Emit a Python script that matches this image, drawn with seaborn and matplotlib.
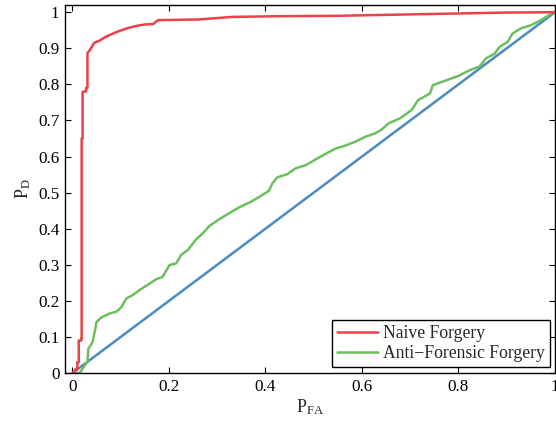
import numpy as np
import pandas as pd
import matplotlib
matplotlib.use("Agg")
import matplotlib.pyplot as plt
import seaborn as sns

# ---- data ----
naive_pfa = [0.0, 0.005, 0.005, 0.010, 0.010, 0.013, 0.013, 0.018, 0.018, 0.019, 0.019,
             0.021, 0.021, 0.028, 0.028, 0.031, 0.031, 0.036, 0.045, 0.057, 0.069, 0.091,
             0.112, 0.132, 0.150, 0.167, 0.177, 0.263, 0.331, 0.428, 0.547, 0.702, 0.896, 1.0]
naive_pd = [0.0, 0.0, 0.010, 0.010, 0.030, 0.030, 0.090, 0.090, 0.095, 0.095, 0.650,
            0.650, 0.780, 0.780, 0.790, 0.790, 0.887, 0.895, 0.915, 0.922, 0.932, 0.945,
            0.955, 0.962, 0.966, 0.967, 0.978, 0.980, 0.987, 0.989, 0.990, 0.994, 0.999, 1.0]

anti_pfa = [0.0, 0.015, 0.025, 0.031, 0.033, 0.036, 0.042, 0.050, 0.060, 0.077, 0.091,
            0.101, 0.112, 0.125, 0.139, 0.160, 0.174, 0.187, 0.201, 0.215, 0.225, 0.239,
            0.256, 0.270, 0.284, 0.304, 0.321, 0.345, 0.366, 0.387, 0.407, 0.414, 0.424,
            0.445, 0.462, 0.483, 0.504, 0.524, 0.545, 0.565, 0.586, 0.607, 0.627, 0.641,
            0.655, 0.679, 0.703, 0.716, 0.741, 0.747, 0.772, 0.799, 0.823, 0.844, 0.857,
            0.875, 0.885, 0.902, 0.912, 0.929, 0.950, 0.971, 0.995, 1.0]
anti_pd = [0.0, 0.0, 0.020, 0.031, 0.068, 0.073, 0.087, 0.142, 0.154, 0.165, 0.170,
           0.182, 0.207, 0.216, 0.230, 0.248, 0.260, 0.267, 0.299, 0.304, 0.327, 0.341,
           0.370, 0.387, 0.408, 0.426, 0.440, 0.459, 0.472, 0.488, 0.505, 0.525, 0.542,
           0.551, 0.567, 0.576, 0.592, 0.607, 0.622, 0.630, 0.641, 0.655, 0.664, 0.675,
           0.692, 0.706, 0.729, 0.756, 0.775, 0.798, 0.810, 0.823, 0.839, 0.850, 0.872,
           0.885, 0.904, 0.918, 0.941, 0.955, 0.964, 0.978, 0.998, 1.0]

chance_pfa = [0.0, 1.0]
chance_pd = [0.0, 1.0]

x_ticks = [0, 0.2, 0.4, 0.6, 0.8, 1]
x_tick_labels = ["0", "0.2", "0.4", "0.6", "0.8", "1"]
y_ticks = [0, 0.1, 0.2, 0.3, 0.4, 0.5, 0.6, 0.7, 0.8, 0.9, 1]
y_tick_labels = ["0", "0.1", "0.2", "0.3", "0.4", "0.5", "0.6", "0.7", "0.8", "0.9", "1"]

labels = ["Naive Forgery", "Anti\u2212Forensic Forgery"]

# ---- style ----
sns.set_style("ticks")
plt.rcParams["font.family"] = ["Liberation Serif", "DejaVu Serif"]
plt.rcParams["mathtext.fontset"] = "custom"
plt.rcParams["mathtext.rm"] = "Liberation Serif"
plt.rcParams["mathtext.it"] = "Liberation Serif"
plt.rcParams["font.size"] = 12

fig = plt.figure(figsize=(5.56, 4.23), dpi=100)
ax = fig.add_axes([65 / 556, 1 - 373 / 423, 490 / 556, 368 / 423])

red = "#EB4249"
green = "#6CBF5F"
blue = "#4A8BC2"

df_chance = pd.DataFrame({"pfa": chance_pfa, "pd": chance_pd})
df_naive = pd.DataFrame({"pfa": naive_pfa, "pd": naive_pd})
df_anti = pd.DataFrame({"pfa": anti_pfa, "pd": anti_pd})

sns.lineplot(data=df_chance, x="pfa", y="pd", sort=False, estimator=None,
             color=blue, lw=1.8, ax=ax, legend=False)
sns.lineplot(data=df_anti, x="pfa", y="pd", sort=False, estimator=None,
             color=green, lw=1.8, ax=ax, label=labels[1])
sns.lineplot(data=df_naive, x="pfa", y="pd", sort=False, estimator=None,
             color=red, lw=1.8, ax=ax, label=labels[0])

ax.set_xlim(-0.0155, 1.0)
ax.set_ylim(0, 1.02)
ax.set_xticks(x_ticks)
ax.set_xticklabels(x_tick_labels)
ax.set_yticks(y_ticks)
ax.set_yticklabels(y_tick_labels)
ax.tick_params(direction="in", length=4, width=0.8, top=True, right=True,
               labelsize=12.3, colors="black", pad=4)
for s in ax.spines.values():
    s.set_linewidth(1.0)
    s.set_color("black")
    s.set_visible(True)

ax.set_xlabel(r"$\mathrm{P_{FA}}$", fontsize=13, labelpad=2)
ax.set_ylabel(r"$\mathrm{P_{D}}$", fontsize=13, labelpad=4)

handles, labs = ax.get_legend_handles_labels()
order = [labs.index(labels[0]), labs.index(labels[1])]
leg = ax.legend([handles[i] for i in order], [labs[i] for i in order],
                loc="lower right", bbox_to_anchor=(0.99, 0.016), borderaxespad=0,
                fancybox=False, framealpha=1, edgecolor="black", fontsize=12.7,
                handlelength=2.3, handletextpad=0.3, labelspacing=0.15,
                borderpad=0.3)
leg.get_frame().set_linewidth(1.0)

fig.savefig("out.png", dpi=100)
